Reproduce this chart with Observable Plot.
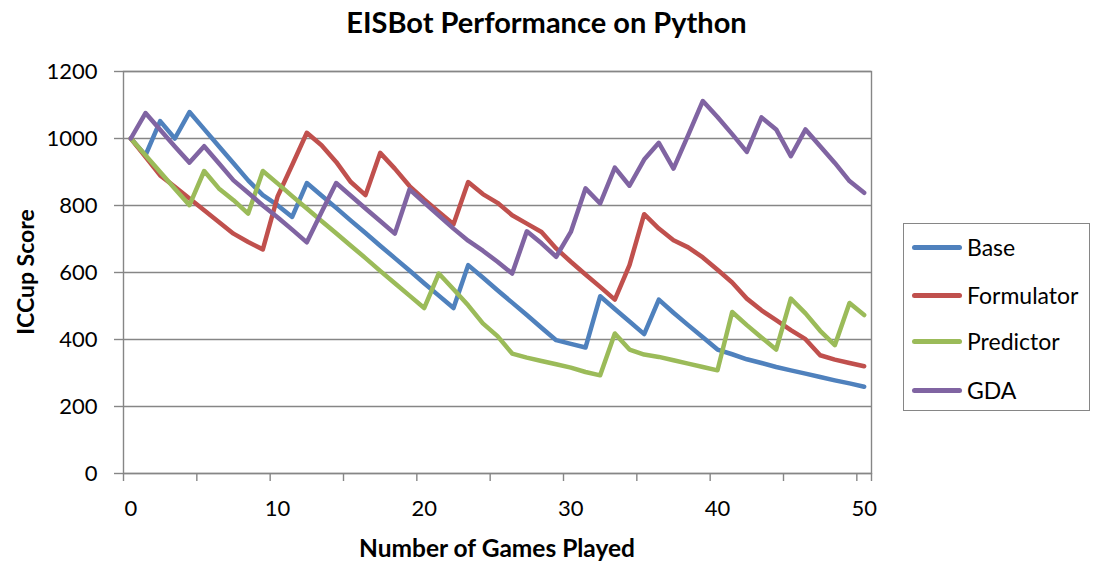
<!DOCTYPE html>
<html>
<head>
<meta charset="utf-8">
<script src="https://cdn.jsdelivr.net/npm/d3@7"></script>
<script src="https://cdn.jsdelivr.net/npm/@observablehq/plot@0.6"></script>
<style>
  html, body { margin: 0; padding: 0; background: #fff; }
  #wrap { position: relative; width: 1093px; height: 563px; overflow: hidden; font-family: Lato, "Open Sans", sans-serif; color: #000; }
  #chart { position: absolute; left: 0; top: 0; }
  .title { position: absolute; left: 0; width: 1093px; top: 3px; text-align: center; font-weight: bold; font-size: 29px; line-height: 38px; }
  .xtitle { position: absolute; left: 247px; width: 500px; top: 532px; text-align: center; font-weight: bold; font-size: 24.5px; line-height: 32px; }
  .ytitle { position: absolute; left: 25px; top: 272px; width: 240px; margin-left: -120px; margin-top: -16px; text-align: center; font-weight: bold; font-size: 23px; line-height: 32px; transform: rotate(-90deg); }
  #legend { position: absolute; left: 903px; top: 223px; width: 187px; height: 188px; border: 1.5px solid #868686; box-sizing: border-box; }
  .item { position: absolute; left: 8px; height: 30px; display: flex; align-items: center; font-size: 23px; white-space: nowrap; }
  .swatch { width: 50px; height: 5px; border-radius: 3px; margin-right: 5px; }
</style>
</head>
<body>
<div id="wrap">
  <div id="chart"></div>
  <div class="title">EISBot Performance on Python</div>
  <div class="xtitle">Number of Games Played</div>
  <div class="ytitle">ICCup Score</div>
  <div id="legend"></div>
</div>
<script>
// ---- data ----
const games = [0,1,2,3,4,5,6,7,8,9,10,11,12,13,14,15,16,17,18,19,20,21,22,23,24,25,26,27,28,29,30,31,32,33,34,35,36,37,38,39,40,41,42,43,44,45,46,47,48,49,50];
const seriesNames = ["Base", "Formulator", "Predictor", "GDA"];
const seriesColors = ["#4F81BD", "#C0504D", "#9BBB59", "#8064A2"];
const base = [1000,950,1052,1000,1079,1028,977,926,875,831,801,766,867,830,793,755,718,680,643,606,568,531,494,622,585,547,510,473,435,398,387,376,529,491,454,416,519,480,443,407,370,356,341,330,318,308,298,288,278,269,259];
const formulator = [1000,945,890,856,821,786,751,716,691,669,826,921,1017,980,930,870,831,957,910,858,818,781,744,870,834,808,771,746,721,672,632,594,557,519,622,774,731,696,675,645,608,570,522,487,458,428,401,353,340,330,320];
const predictor = [1000,950,900,850,801,903,851,816,776,903,866,828,791,754,717,680,643,605,568,531,494,597,550,502,448,410,358,346,336,326,316,303,293,418,370,355,348,338,328,318,308,482,443,406,370,522,478,426,383,509,473];
const gda = [1000,1076,1026,976,928,977,926,875,838,800,765,728,690,780,867,829,791,754,716,848,809,770,731,695,665,632,597,723,687,647,721,851,806,913,859,937,987,910,1010,1112,1064,1013,960,1063,1027,947,1027,977,927,873,838];
const yTicks = [0,200,400,600,800,1000,1200];
const xTickLabels = [0,10,20,30,40,50];
const xTickMarks = [-0.5,4.5,9.5,14.5,19.5,24.5,29.5,34.5,39.5,44.5,49.5,50.5];

const allValues = [base, formulator, predictor, gda];
const rows = seriesNames.flatMap((s, i) => allValues[i].map((v, j) => ({game: games[j], score: v, series: s})));

const chart = Plot.plot({
  width: 1093,
  height: 563,
  marginLeft: 123,
  marginRight: 222,
  marginTop: 71,
  marginBottom: 90,
  style: {fontFamily: "Lato, 'Open Sans', sans-serif", fontSize: "22px", color: "#000", background: "transparent"},
  x: {domain: [-0.5, 50.5]},
  y: {domain: [0, 1200]},
  color: {domain: seriesNames, range: seriesColors},
  marks: [
    Plot.gridY(yTicks, {stroke: "#868686", strokeOpacity: 1, strokeWidth: 1.4}),
    Plot.frame({stroke: "#868686", strokeWidth: 1.4}),
    Plot.axisY(yTicks, {tickSize: 9, tickPadding: 17, tickFormat: d => String(d), stroke: "#868686", strokeOpacity: 1, strokeWidth: 1.4, fill: "#000", fontSize: 22, label: null}),
    Plot.axisX(xTickMarks, {tickSize: 8, tickFormat: () => "", stroke: "#868686", strokeOpacity: 1, strokeWidth: 1.4, label: null}),
    Plot.axisX(xTickLabels, {tickSize: 0, tickPadding: 27, tickFormat: d => String(d), fill: "#000", fontSize: 22, label: null}),
    Plot.line(rows, {x: "game", y: "score", stroke: "series", z: "series", strokeWidth: 4.5, strokeLinejoin: "round", strokeLinecap: "round"})
  ]
});
document.getElementById("chart").appendChild(chart);

// legend
const legend = document.getElementById("legend");
const offsets = [8, 56, 102, 151];
seriesNames.forEach((s, i) => {
  const it = document.createElement("div");
  it.className = "item";
  it.style.top = offsets[i] + "px";
  const sw = document.createElement("div");
  sw.className = "swatch";
  sw.style.background = seriesColors[i];
  const tx = document.createElement("span");
  tx.textContent = s;
  it.appendChild(sw);
  it.appendChild(tx);
  legend.appendChild(it);
});
</script>
</body>
</html>
